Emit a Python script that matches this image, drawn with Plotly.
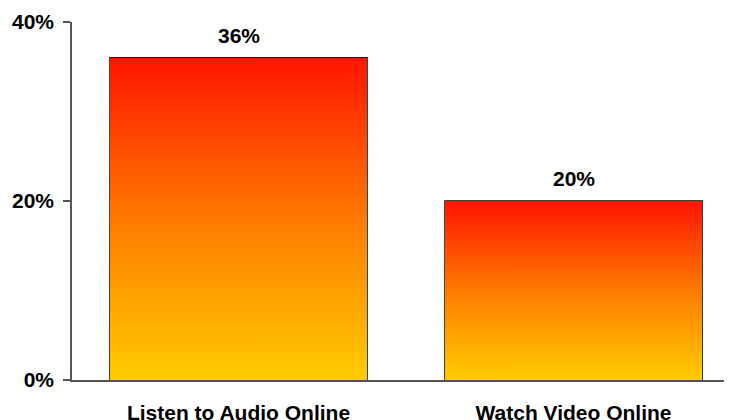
import plotly.graph_objects as go

# chart data
categories = ["Listen to Audio Online", "Watch Video Online"]
shares = [36, 20]
y_tick_vals = [0, 20, 40]
y_tick_text = ["0%", "20%", "40%"]

bar_width = 0.767
gradient = [[0, "#FFCC00"], [0.5, "#FF7A00"], [1, "#FF1500"]]
font_family = "Arial, Liberation Sans, Helvetica, sans-serif"

fig = go.Figure()

# gradient fill for each bar (yellow at the bottom, red at the top)
for i, v in enumerate(shares):
    x0, x1 = i - bar_width / 2, i + bar_width / 2
    fig.add_trace(go.Scatter(
        x=[x0, x1, x1, x0, x0], y=[0, 0, v, v, 0],
        fill="toself", mode="none",
        fillgradient=dict(type="vertical", colorscale=gradient, start=0, stop=v),
        hoverinfo="skip", showlegend=False))

# outline of the bars
fig.add_trace(go.Bar(
    x=list(range(len(categories))), y=shares, width=bar_width,
    marker=dict(color="rgba(0,0,0,0)", line=dict(color="black", width=1.5)),
    hoverinfo="skip", showlegend=False))

# value labels above the bars
for i, v in enumerate(shares):
    fig.add_annotation(x=i, y=v, text=f"<b>{v}%</b>", showarrow=False,
                       yanchor="bottom", yshift=9,
                       font=dict(family=font_family, size=21, color="black"))

# page body has an 8px margin, so the figure is sized 8px smaller
fig.update_layout(
    width=724, height=412,
    margin=dict(l=64, r=0, t=14, b=40),
    paper_bgcolor="white", plot_bgcolor="white",
    font=dict(family=font_family, size=21, color="black"),
    xaxis=dict(
        range=[-0.497, 1.473], tickvals=list(range(len(categories))),
        ticktext=[f"<b>{c}</b>" for c in categories],
        showgrid=False, zeroline=False, showline=True, automargin=False,
        linecolor="#555555", linewidth=1.5, ticks="", ticklabelstandoff=13),
    yaxis=dict(
        range=[0, 40], tickvals=y_tick_vals,
        ticktext=[f"<b>{t}</b>" for t in y_tick_text],
        showgrid=False, zeroline=False, showline=True, automargin=False,
        linecolor="#555555", linewidth=1.5, ticks="outside", ticklen=7,
        tickcolor="#555555", tickwidth=1.5, ticklabelstandoff=5),
)

fig.write_html("out.html")
